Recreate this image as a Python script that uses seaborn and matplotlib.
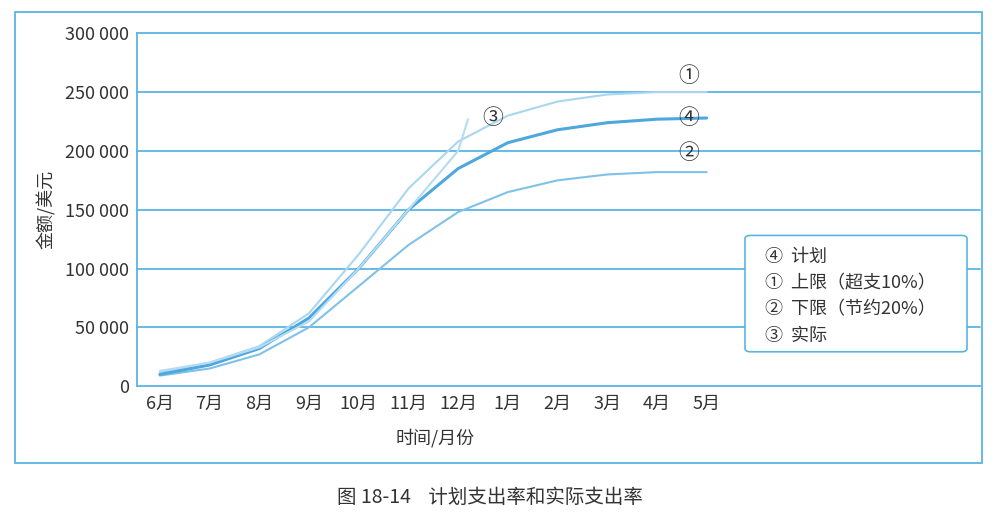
import numpy as np
import pandas as pd
import matplotlib.pyplot as plt
import seaborn as sns
from matplotlib.patches import Rectangle, FancyBboxPatch

months = ['6月', '7月', '8月', '9月', '10月', '11月', '12月', '1月', '2月', '3月', '4月', '5月']
plan = [10000, 18000, 32000, 58000, 100000, 150000, 185000, 207000, 218000, 224000, 227000, 228000]
upper = [12000, 20000, 34000, 62000, 112000, 168000, 208000, 230000, 242000, 248000, 250000, 250000]
lower = [9000, 15000, 27000, 50000, 85000, 120000, 148000, 165000, 175000, 180000, 182000, 182000]
actual_x = [0, 1, 2, 3, 4, 5, 6, 6.2]
actual = [13000, 20000, 33000, 55000, 100000, 150000, 200000, 227000]
y_ticks = [0, 50000, 100000, 150000, 200000, 250000, 300000]

sns.set_theme(style='white')
plt.rcParams['font.family'] = ['Noto Sans CJK SC', 'DejaVu Sans']

fig = plt.figure(figsize=(10, 5.29), dpi=100)
ax = fig.add_axes([0.137, 0.270, 0.843, 0.667])
ax.grid(False)

grid_c = '#5ab4e4'
for v in y_ticks[1:]:
    ax.axhline(v, color=grid_c, lw=1.3, zorder=1, clip_on=False)

x = np.arange(len(months))
df = pd.DataFrame({'x': np.concatenate([x, x, x]),
                   'y': upper + lower + plan,
                   's': ['upper'] * 12 + ['lower'] * 12 + ['plan'] * 12})
sns.lineplot(data=df[df.s == 'upper'], x='x', y='y', color='#a9d6f0', lw=1.5, ax=ax)
sns.lineplot(data=df[df.s == 'lower'], x='x', y='y', color='#7fc1e8', lw=1.5, ax=ax)
sns.lineplot(data=df[df.s == 'plan'], x='x', y='y', color='#4ea8de', lw=2.2, ax=ax)
sns.lineplot(x=actual_x, y=actual, color='#b5dcf2', lw=1.5, ax=ax)

txt_c = '#333333'
ax.text(10.65, 264000, '①', fontsize=15, color=txt_c, ha='center', va='center')
ax.text(10.65, 228000, '④', fontsize=15, color=txt_c, ha='center', va='center')
ax.text(10.65, 198000, '②', fontsize=15, color=txt_c, ha='center', va='center')
ax.text(6.7, 228000, '③', fontsize=15, color=txt_c, ha='center', va='center')

ax.set_xlim(-0.46, 16.5)
ax.set_ylim(0, 300000)
ax.set_xticks(x)
ax.set_xticklabels(months, fontsize=13, color=txt_c)
ax.set_yticks(y_ticks)
ax.set_yticklabels([f'{v:,}'.replace(',', ' ') for v in y_ticks], fontsize=13, color=txt_c)
ax.tick_params(axis='x', direction='in', length=4, color=grid_c, pad=6)
ax.tick_params(axis='y', length=0, pad=6)
for side in ['top', 'right']:
    ax.spines[side].set_visible(False)
for side in ['left', 'bottom']:
    ax.spines[side].set_color(grid_c)
    ax.spines[side].set_linewidth(1.3)
ax.set_xlabel('时间/月份', fontsize=13, color=txt_c)
ax.xaxis.set_label_coords(0.354, -0.12)
ax.set_ylabel('金额/美元', fontsize=13, color=txt_c, labelpad=6)

# legend box
fig.patches.append(FancyBboxPatch((0.745, 0.335), 0.222, 0.22, transform=fig.transFigure,
                                  boxstyle='round,pad=0.0,rounding_size=0.006',
                                  fc='white', ec=grid_c, lw=1.2, zorder=5))
legend_lines = ['④  计划', '①  上限（超支10%）', '②  下限（节约20%）', '③  实际']
for i, t in enumerate(legend_lines):
    fig.text(0.765, 0.515 - i * 0.05, t, fontsize=13, color=txt_c, va='center', zorder=6)

# outer frame and caption
fig.patches.append(Rectangle((0.015, 0.125), 0.967, 0.853, transform=fig.transFigure,
                             fill=False, ec=grid_c, lw=1.3))
fig.text(0.49, 0.06, '图 18-14    计划支出率和实际支出率', fontsize=14, color=txt_c, ha='center', va='center')

fig.savefig('out.png', dpi=100)
